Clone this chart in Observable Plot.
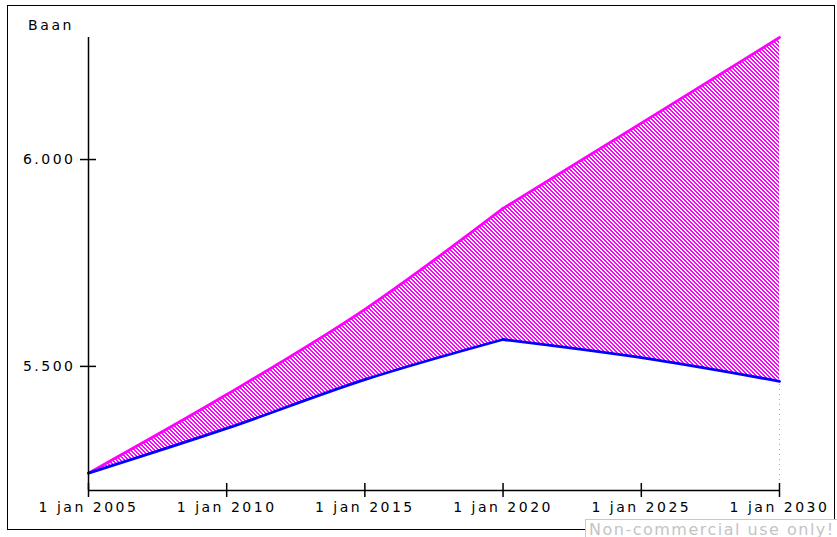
<!DOCTYPE html>
<html>
<head>
<meta charset="utf-8">
<script src="https://cdn.jsdelivr.net/npm/d3@7"></script>
<script src="https://cdn.jsdelivr.net/npm/@observablehq/plot@0.6"></script>
<style>
  html, body { margin: 0; padding: 0; background: #fff; }
  #wrap { position: relative; width: 837px; height: 537px; overflow: hidden; font-family: "DejaVu Sans", Verdana, sans-serif; }
  #frame { position: absolute; left: 7px; top: 5px; width: 828px; height: 525px; border: 1.5px solid #000; box-sizing: border-box; }
  #chart { position: absolute; left: 0; top: 0; }
  #ylabel { position: absolute; left: 28px; top: 17px; font-size: 14px; letter-spacing: 2.6px; color: #000; }
  #wm { position: absolute; left: 585px; top: 519px; width: 270px; height: 22px; border: 1px solid #c8c8c8; background: #fff; color: #c4c4c4; font-size: 16px; letter-spacing: 1.5px; padding-left: 3px; line-height: 20px; white-space: nowrap; }
</style>
</head>
<body>
<div id="wrap">
  <div id="frame"></div>
  <div id="chart"></div>
  <div id="ylabel">Baan</div>
  <div id="wm">Non-commercial use only!</div>
</div>
<script>
// Data
const years = [2005, 2010, 2015, 2020, 2025, 2030];
const upper = [5242, 5432, 5638, 5882, 6088, 6295];
const lower = [5242, 5350, 5468, 5565, 5521, 5464];
const xTickYears = [2005, 2010, 2015, 2020, 2025, 2030];
const yTicks = [5500, 6000];
const yDomain = [5200, 6295];
const breakYear = 2020;

const toDate = (y) => new Date(Date.UTC(y, 0, 1));
const rows = years.map((y, i) => ({year: y, date: toDate(y), upper: upper[i], lower: lower[i]}));
const rowsA = rows.filter((d) => d.year <= breakYear);
const rowsB = rows.filter((d) => d.year >= breakYear);
const xTicks = xTickYears.map(toDate);
const x0 = toDate(years[0]);
const x1 = toDate(years[years.length - 1]);
const fmtY = (v) => { const s = String(v); return s.slice(0, s.length - 3) + "." + s.slice(-3); };

const chart = Plot.plot({
  width: 837,
  height: 537,
  marginLeft: 88,
  marginRight: 58,
  marginTop: 37,
  marginBottom: 47,
  style: {fontFamily: "DejaVu Sans, Verdana, sans-serif", fontSize: "14px", letterSpacing: "2.5px", background: "transparent", color: "#000"},
  x: {type: "utc", domain: [x0, x1]},
  y: {domain: yDomain},
  marks: [
    Plot.areaY(rowsA, {x: "date", y1: "lower", y2: "upper", fill: "url(#hatch)", curve: "monotone-x", shapeRendering: "crispEdges"}),
    Plot.areaY(rowsB, {x: "date", y1: "lower", y2: "upper", fill: "url(#hatch)", curve: "monotone-x", shapeRendering: "crispEdges"}),
    Plot.ruleX([x1], {y1: yDomain[0], y2: lower[lower.length - 1], stroke: "#ff66ff", strokeDasharray: "1,4", strokeWidth: 1}),
    Plot.line(rowsA, {x: "date", y: "upper", stroke: "#ff00ff", strokeWidth: 2.8, curve: "monotone-x"}),
    Plot.line(rowsB, {x: "date", y: "upper", stroke: "#ff00ff", strokeWidth: 2.8, curve: "monotone-x"}),
    Plot.line(rowsA, {x: "date", y: "lower", stroke: "#0000ff", strokeWidth: 2.8, curve: "monotone-x"}),
    Plot.line(rowsB, {x: "date", y: "lower", stroke: "#0000ff", strokeWidth: 2.8, curve: "monotone-x"}),
    // axis lines
    Plot.ruleY([yDomain[0]], {x1: x0, x2: x1, stroke: "#000", strokeWidth: 1.5}),
    Plot.ruleX([x0], {y1: yDomain[0], y2: yDomain[1], stroke: "#000", strokeWidth: 1.5}),
    // crossing ticks
    Plot.ruleX(xTicks, {x: (d) => d, y1: yDomain[0], y2: yDomain[0], insetTop: -7, insetBottom: -7, stroke: "#000", strokeWidth: 1.5}),
    Plot.ruleY(yTicks, {y: (d) => d, x1: x0, x2: x0, insetLeft: -8, insetRight: -8, stroke: "#000", strokeWidth: 1.5}),
    // labels
    Plot.axisX({ticks: xTicks, tickSize: 0, tickPadding: 12, tickFormat: (d) => `1 jan ${d.getUTCFullYear()}`, label: null}),
    Plot.axisY({ticks: yTicks, tickSize: 0, tickPadding: 13, tickFormat: fmtY, label: null})
  ]
});

const ns = "http://www.w3.org/2000/svg";
const defs = document.createElementNS(ns, "defs");
defs.innerHTML = `<pattern id="hatch" x="0" y="0" width="4" height="4" patternUnits="userSpaceOnUse">
  <rect x="0" y="0" width="2" height="1" fill="#ff00ff"/>
  <rect x="1" y="1" width="2" height="1" fill="#ff00ff"/>
  <rect x="2" y="2" width="2" height="1" fill="#ff00ff"/>
  <rect x="3" y="3" width="1" height="1" fill="#ff00ff"/>
  <rect x="0" y="3" width="1" height="1" fill="#ff00ff"/>
</pattern>`;
chart.prepend(defs);
document.getElementById("chart").appendChild(chart);
</script>
</body>
</html>
